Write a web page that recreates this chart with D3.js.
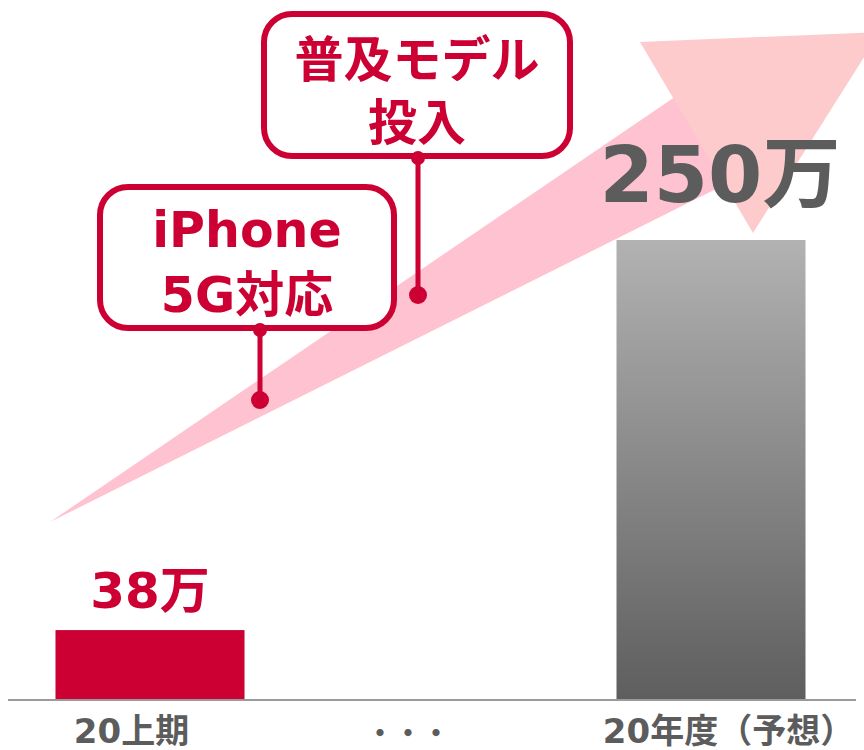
<!DOCTYPE html>
<html>
<head>
<meta charset="utf-8">
<script src="https://cdn.jsdelivr.net/npm/d3@7"></script>
<style>
  body { margin: 0; background: #fff; }
  #chart { width: 864px; height: 750px; }
  text { font-family: "DejaVu Sans", "Noto Sans CJK JP", sans-serif; font-weight: bold; }
</style>
</head>
<body>
<div id="chart"></div>
<script>
// chart values
var categories = ["20上期", "・・・", "20年度（予想）"];
var values = [38, null, 250];
var valueLabels = ["38万", null, "250万"];
var callouts = [["iPhone", "5G対応"], ["普及モデル", "投入"]];

var width = 864,
    height = 750;

var red = "#cc0033",
    grey = "#5c5c5c";

var svg = d3.select("#chart")
    .append("svg")
    .attr("width", width)
    .attr("height", height);

/* SCALES */
var x = d3.scalePoint()
    .domain(categories)
    .range([150, 711]);

var y = d3.scaleLinear()
    .domain([0, 250])
    .range([700, 240]);

var barWidth = 189;

/* GRADIENT FOR FORECAST BAR */
var grad = svg.append("defs").append("linearGradient")
    .attr("id", "greyGrad")
    .attr("x1", 0).attr("y1", 0)
    .attr("x2", 0).attr("y2", 1);
grad.append("stop").attr("offset", "0%").attr("stop-color", "#b2b2b2");
grad.append("stop").attr("offset", "100%").attr("stop-color", "#5e5e5e");

/* GROWTH WEDGE AND ARROW HEAD */
svg.append("path")
    .attr("d", "M50,522 L760,39 L760,167 Z")
    .attr("fill", "#ffc2d1");

svg.append("path")
    .attr("d", "M640,42 L880,32 L753,233 Z")
    .attr("fill", "#fdcbcb");

/* BARS */
var barData = categories
    .map((c, i) => ({cat: c, value: values[i], label: valueLabels[i]}))
    .filter(d => d.value != null);

svg.append("g")
    .selectAll("rect")
    .data(barData)
    .enter()
    .append("rect")
        .attr("x", d => x(d.cat) - barWidth / 2)
        .attr("y", d => y(d.value))
        .attr("width", barWidth)
        .attr("height", d => y(0) - y(d.value))
        .attr("fill", (d, i) => i == 0 ? red : "url(#greyGrad)");

// value labels
svg.append("g")
    .selectAll("text")
    .data(barData)
    .enter()
    .append("text")
        .attr("x", (d, i) => x(d.cat) + (i == 0 ? 0 : 9))
        .attr("y", (d, i) => y(d.value) - (i == 0 ? 22 : 38))
        .attr("text-anchor", "middle")
        .style("font-size", (d, i) => i == 0 ? "50px" : "78px")
        .style("fill", (d, i) => i == 0 ? red : grey)
        .text(d => d.label);

/* BASELINE AND CATEGORY AXIS */
svg.append("line")
    .attr("x1", 8).attr("x2", 856)
    .attr("y1", y(0)).attr("y2", y(0))
    .attr("stroke", "#9a9a9a")
    .attr("stroke-width", 2);

var labelDx = [-19, -23, 17];
var axis = svg.append("g")
    .attr("transform", `translate(0,${y(0)})`)
    .call(d3.axisBottom(x).tickSize(0).tickPadding(0));
axis.select(".domain").remove();
axis.selectAll(".tick text")
    .attr("dx", (d, i) => labelDx[i])
    .attr("y", (d, i) => i == 1 ? 44 : 43)
    .attr("dy", 0)
    .style("font-size", (d, i) => i == 1 ? "28px" : "34px")
    .style("fill", grey)
    .style("font-family", "\"DejaVu Sans\", \"Noto Sans CJK JP\", sans-serif")
    .style("font-weight", "bold");

/* CALLOUT BOXES */
var boxes = [
    {x: 100, y: 187, w: 294, h: 141, px: 260, py: 400, base: [247, 312]},
    {x: 264, y: 14, w: 306, h: 142, px: 418, py: 295, base: [77, 140]}
];

var callout = svg.append("g")
    .selectAll("g")
    .data(boxes)
    .enter()
    .append("g");

callout.append("line")
    .attr("x1", d => d.px).attr("x2", d => d.px)
    .attr("y1", d => d.y + d.h).attr("y2", d => d.py)
    .attr("stroke", red)
    .attr("stroke-width", 5);

callout.append("circle")
    .attr("cx", d => d.px).attr("cy", d => d.py)
    .attr("r", 9)
    .attr("fill", red);

callout.append("rect")
    .attr("x", d => d.x).attr("y", d => d.y)
    .attr("width", d => d.w).attr("height", d => d.h)
    .attr("rx", 28).attr("ry", 28)
    .attr("fill", "#fff")
    .attr("stroke", red)
    .attr("stroke-width", 6);

callout.append("circle")
    .attr("cx", d => d.px).attr("cy", d => d.y + d.h + 2)
    .attr("r", 7)
    .attr("fill", red);

callout.each(function(d, i) {
    d3.select(this).selectAll("text.line")
        .data(callouts[i])
        .enter()
        .append("text")
            .attr("class", "line")
            .attr("x", d.x + d.w / 2)
            .attr("y", (t, j) => d.base[j])
            .attr("text-anchor", "middle")
            .style("font-size", "49px")
            .style("fill", red)
            .text(t => t);
});
</script>
</body>
</html>
